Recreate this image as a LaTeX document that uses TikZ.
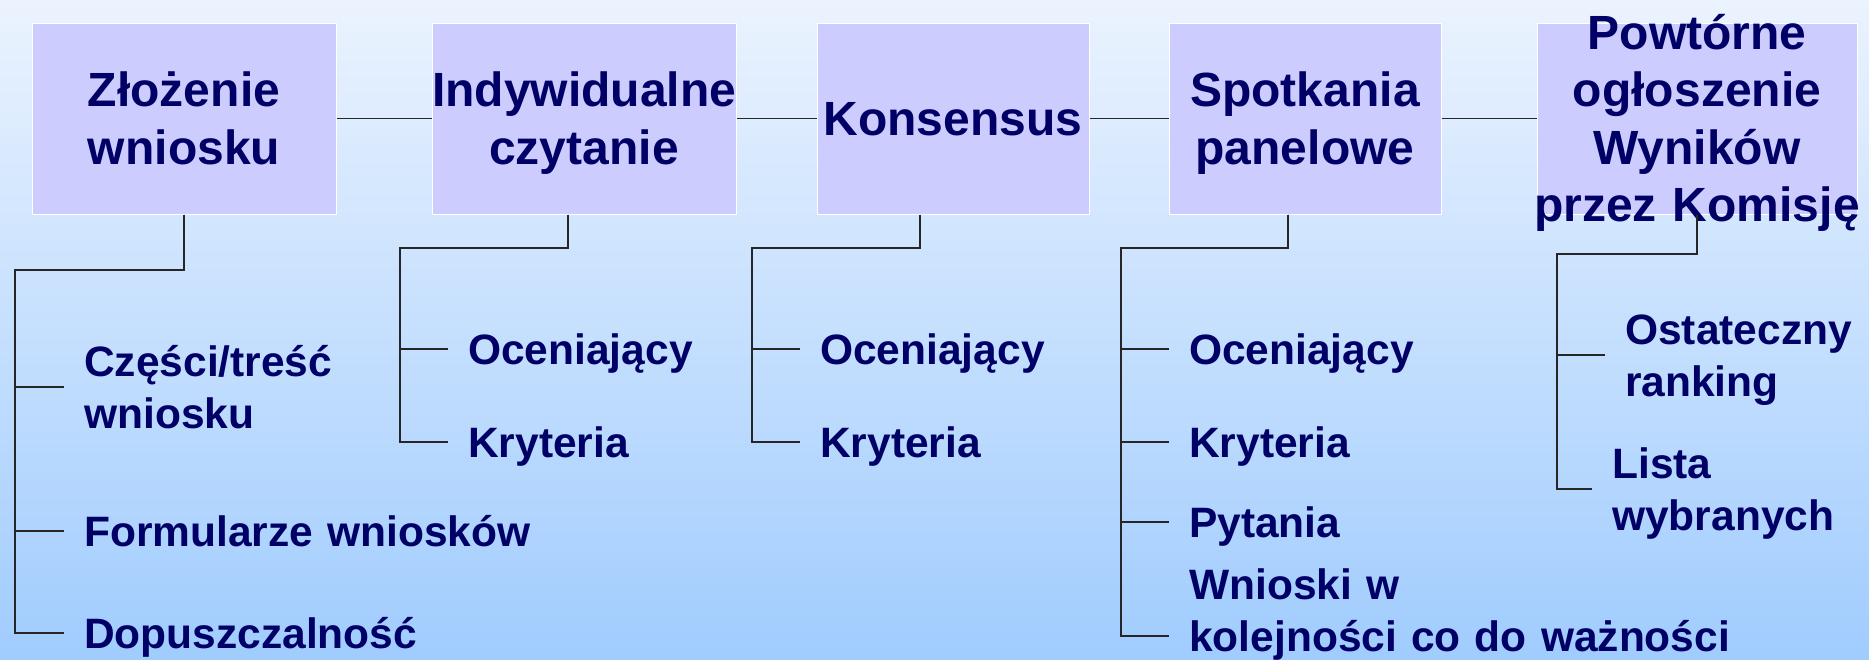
\documentclass[tikz,border=0pt]{standalone}
\usepackage{fontspec}
\setmainfont{Liberation Sans}
\usepackage{tikz}
\definecolor{tlo1}{HTML}{EBF3FE}
\definecolor{tlo2}{HTML}{A0CCFE}
\definecolor{ramka}{HTML}{CCCCFF}
\definecolor{granat}{HTML}{000066}

\begin{document}
\begin{tikzpicture}[x=1pt,y=-1pt,
  etap/.style={fill=ramka,draw=white,line width=1pt,minimum height=191pt,
    inner sep=0pt,align=center,text=granat,
    font=\fontsize{48}{57.5}\selectfont\bfseries,
    text height=34.4pt,text depth=0pt},
  punkt/.style={anchor=west,inner xsep=20pt,inner ysep=0pt,text width=600pt,
    align=left,text=granat,font=\fontsize{42.5}{52}\selectfont\bfseries,
    text height=30.4pt,text depth=0pt},
  linia/.style={line width=1.2pt,black!85}]
\shade[top color=tlo1,bottom color=tlo2,use as bounding box] (0,0) rectangle (1869,659);
% etapy
\node[etap,text width=304pt,text depth=57.5pt] (zlozenie) at (184,118.5) {Złożenie\\wniosku};
\node[etap,text width=304pt,text depth=57.5pt] (czytanie) at (584,118.5) {Indywidualne\\czytanie};
\node[etap,text width=272pt] (konsensus) at (953,118.5) {Konsensus};
\node[etap,text width=272pt,text depth=57.5pt] (spotkania) at (1305,118.5) {Spotkania\\panelowe};
\node[etap,text width=320pt,text height=0pt,text depth=138.1pt] (ogloszenie) at (1697,118.5) {Powtórne\\ogłoszenie\\Wyników\\\makebox[\linewidth]{przez Komisję}};
\draw[linia] (zlozenie.east) -- (czytanie.west);
\draw[linia] (czytanie.east) -- (konsensus.west);
\draw[linia] (konsensus.east) -- (spotkania.west);
\draw[linia] (spotkania.east) -- (ogloszenie.west);
% punkty
\coordinate (g1) at (15,270);
\coordinate (g2) at (400,248);
\coordinate (g3) at (752,248);
\coordinate (g4) at (1121,248);
\coordinate (g5) at (1557,254);
\node[punkt,text depth=52pt] (czesci) at (64,387) {Części/treść\\wniosku};
\node[punkt] (formularze) at (64,531) {Formularze wniosków};
\node[punkt] (dopuszczalnosc) at (64,633) {Dopuszczalność};
\node[punkt] (ocen2) at (448,349) {Oceniający};
\node[punkt] (kryt2) at (448,442) {Kryteria};
\node[punkt] (ocen3) at (800,349) {Oceniający};
\node[punkt] (kryt3) at (800,442) {Kryteria};
\node[punkt] (ocen4) at (1169,349) {Oceniający};
\node[punkt] (kryt4) at (1169,442) {Kryteria};
\node[punkt] (pytania) at (1169,522) {Pytania};
\node[punkt,text depth=104pt] (wnioski) at (1169,636) {Wnioski w\\kolejności co do ważności};
\node[punkt,text depth=52pt] (ranking) at (1605,355) {Ostateczny\\ranking};
\node[punkt,text depth=52pt] (lista) at (1592,489) {Lista\\wybranych};
\foreach \c in {czesci,formularze,dopuszczalnosc}
  \draw[linia] (zlozenie.south) |- (g1) |- (\c.west);
\foreach \c in {ocen2,kryt2}
  \draw[linia] ([xshift=-16pt]czytanie.south) |- (g2) |- (\c.west);
\foreach \c in {ocen3,kryt3}
  \draw[linia] ([xshift=-33pt]konsensus.south) |- (g3) |- (\c.west);
\foreach \c in {ocen4,kryt4,pytania,wnioski}
  \draw[linia] ([xshift=-17pt]spotkania.south) |- (g4) |- (\c.west);
\foreach \c in {ranking,lista}
  \draw[linia] (ogloszenie.south) |- (g5) |- (\c.west);
\end{tikzpicture}
\end{document}
